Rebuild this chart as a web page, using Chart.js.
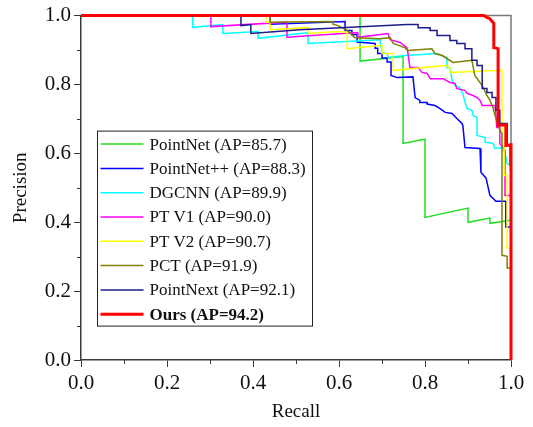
<!DOCTYPE html>
<html>
<head>
<meta charset="utf-8">
<script src="https://cdn.jsdelivr.net/npm/chart.js@4.4.0/dist/chart.umd.min.js"></script>
<style>
  html, body { margin: 0; padding: 0; background: #fff; }
  #wrap { width: 533px; height: 427px; }
</style>
</head>
<body>
<div id="wrap"><canvas id="pr" width="533" height="427"></canvas></div>
<script>
// legend entries, in legend order
const methodNames = ['PointNet', 'PointNet++', 'DGCNN', 'PT V1', 'PT V2', 'PCT', 'PointNext', 'Ours'];
const apValues = ['85.7', '88.3', '89.9', '90.0', '90.7', '91.9', '92.1', '94.2'];
const lineColors = ['#1fe01f', '#0000ff', '#00ffff', '#ff00ff', '#ffff00', '#808000', '#1c1c8c', '#ff0000'];
const axisTicks = [0, 0.2, 0.4, 0.6, 0.8, 1.0];

// [recall, precision]
const pointNetPR = [[0, 1], [0.649, 1], [0.649, 0.868], [0.749, 0.881], [0.749, 0.629], [0.800, 0.641],
  [0.800, 0.414], [0.900, 0.441], [0.900, 0.400], [0.951, 0.412], [0.951, 0.397], [0.998, 0.406]];

const pointNetPPPR = [[0, 1], [0.44, 1], [0.44, 0.975], [0.614, 0.983], [0.614, 0.957], [0.630, 0.957],
  [0.630, 0.945], [0.642, 0.945], [0.642, 0.923], [0.684, 0.919], [0.684, 0.905], [0.690, 0.905],
  [0.690, 0.890], [0.700, 0.890], [0.700, 0.877], [0.712, 0.877], [0.712, 0.865], [0.721, 0.865],
  [0.721, 0.826], [0.735, 0.820], [0.772, 0.822], [0.777, 0.762],
  [0.788, 0.754], [0.788, 0.748], [0.805, 0.748], [0.805, 0.743], [0.823, 0.739], [0.835, 0.730],
  [0.847, 0.719], [0.863, 0.716], [0.874, 0.701], [0.886, 0.687], [0.888, 0.681], [0.893, 0.617],
  [0.928, 0.614], [0.930, 0.545], [0.942, 0.528], [0.951, 0.478], [0.965, 0.461], [0.988, 0.461],
  [0.988, 0.386], [0.998, 0.386]];

const dgcnnPR = [[0, 1], [0.260, 1], [0.260, 0.966], [0.330, 0.974], [0.330, 0.948], [0.412, 0.954],
  [0.412, 0.934], [0.509, 0.948], [0.528, 0.950], [0.528, 0.919], [0.695, 0.930], [0.700, 0.893],
  [0.712, 0.890], [0.714, 0.878], [0.753, 0.884], [0.828, 0.890], [0.851, 0.878], [0.851, 0.849],
  [0.858, 0.849], [0.863, 0.812], [0.870, 0.797], [0.881, 0.790], [0.888, 0.774], [0.893, 0.748],
  [0.898, 0.730], [0.909, 0.725], [0.912, 0.710], [0.921, 0.704], [0.921, 0.652], [0.940, 0.646],
  [0.940, 0.632], [0.958, 0.629], [0.963, 0.614], [0.979, 0.617], [0.986, 0.600], [0.991, 0.571],
  [0.998, 0.565]];

const ptV1PR = [[0, 1], [0.302, 1], [0.302, 0.968], [0.479, 0.981], [0.479, 0.937], [0.642, 0.951],
  [0.644, 0.937], [0.714, 0.948], [0.719, 0.930], [0.742, 0.922], [0.758, 0.907], [0.760, 0.893],
  [0.765, 0.849], [0.784, 0.849], [0.793, 0.835], [0.805, 0.832], [0.812, 0.817], [0.842, 0.817],
  [0.858, 0.806], [0.870, 0.803], [0.874, 0.788], [0.893, 0.783], [0.898, 0.774], [0.912, 0.768],
  [0.921, 0.762], [0.928, 0.754], [0.933, 0.739], [0.963, 0.739], [0.967, 0.675], [0.974, 0.675],
  [0.974, 0.629], [0.986, 0.610], [0.986, 0.478], [0.998, 0.478]];

const ptV2PR = [[0, 1], [0.430, 1], [0.430, 0.981], [0.440, 0.981], [0.440, 0.959], [0.528, 0.965],
  [0.528, 0.948], [0.598, 0.954], [0.619, 0.951], [0.619, 0.904], [0.695, 0.913], [0.700, 0.913],
  [0.700, 0.890], [0.726, 0.890], [0.726, 0.841], [0.851, 0.855], [0.858, 0.846], [0.858, 0.835],
  [0.979, 0.841], [0.979, 0.629], [0.984, 0.620], [0.984, 0.536], [0.991, 0.536], [0.991, 0.325],
  [0.998, 0.325]];

const pctPR = [[0, 1], [0.440, 1], [0.440, 0.981], [0.586, 0.983], [0.586, 0.975], [0.598, 0.971],
  [0.619, 0.957], [0.637, 0.936], [0.695, 0.933], [0.719, 0.936], [0.726, 0.919], [0.753, 0.907],
  [0.760, 0.899], [0.816, 0.904], [0.823, 0.890], [0.840, 0.884], [0.865, 0.864], [0.909, 0.870],
  [0.916, 0.826], [0.933, 0.797], [0.944, 0.768], [0.951, 0.754], [0.958, 0.733], [0.963, 0.710],
  [0.974, 0.667], [0.979, 0.658], [0.979, 0.304], [0.991, 0.301], [0.991, 0.267], [0.998, 0.267]];

const pointNextPR = [[0, 1], [0.372, 1], [0.372, 0.971], [0.395, 0.974], [0.395, 0.948], [0.509, 0.959],
  [0.758, 0.974], [0.784, 0.974], [0.784, 0.965], [0.812, 0.965], [0.812, 0.957], [0.828, 0.957],
  [0.828, 0.942], [0.858, 0.942], [0.858, 0.928], [0.874, 0.928], [0.874, 0.919], [0.893, 0.919],
  [0.893, 0.904], [0.909, 0.904], [0.909, 0.870], [0.921, 0.870], [0.921, 0.855], [0.933, 0.855],
  [0.933, 0.788], [0.944, 0.788], [0.944, 0.777], [0.956, 0.777], [0.956, 0.762], [0.965, 0.762],
  [0.965, 0.725], [0.974, 0.725], [0.974, 0.687], [0.991, 0.687], [0.991, 0.623], [0.998, 0.623],
  [0.998, 0.565]];

const oursPR = [[0, 1], [0.937, 1], [0.944, 0.995], [0.951, 0.991], [0.958, 0.980], [0.960, 0.978],
  [0.960, 0.907], [0.970, 0.904], [0.970, 0.681], [0.988, 0.683], [0.988, 0.623], [1.0, 0.625], [1.0, 0]];

const curves = [pointNetPR, pointNetPPPR, dgcnnPR, ptV1PR, ptV2PR, pctPR, pointNextPR, oursPR];

const SERIF = "'Liberation Serif', 'Times New Roman', serif";
const AXIS_COLOR = '#3a3a3a';

// frame on top/right, minor ticks, and the boxed legend
const frameAndLegend = {
  id: 'frameAndLegend',
  beforeDatasetsDraw(chart) {
    const { ctx, chartArea: a, scales } = chart;
    ctx.save();
    ctx.strokeStyle = '#777';
    ctx.lineWidth = 1.5;
    ctx.beginPath();
    ctx.moveTo(a.left, a.top);
    ctx.lineTo(a.right, a.top);
    ctx.lineTo(a.right, a.bottom);
    ctx.stroke();

    ctx.strokeStyle = AXIS_COLOR;
    ctx.lineWidth = 1;
    for (let v = 0.1; v < 1; v += 0.2) {
      const px = Math.round(scales.x.getPixelForValue(v)) + 0.5;
      ctx.beginPath();
      ctx.moveTo(px, a.bottom);
      ctx.lineTo(px, a.bottom + 4);
      ctx.stroke();
      const py = Math.round(scales.y.getPixelForValue(v)) + 0.5;
      ctx.beginPath();
      ctx.moveTo(a.left, py);
      ctx.lineTo(a.left - 4, py);
      ctx.stroke();
    }
    ctx.restore();
  },
  afterDatasetsDraw(chart) {
    const { ctx, chartArea: a } = chart;
    const left = a.left + 16.5;
    const top = a.top + 115.5;
    ctx.save();
    ctx.fillStyle = '#fff';
    ctx.fillRect(left, top, 215, 195);
    ctx.strokeStyle = '#222';
    ctx.lineWidth = 1;
    ctx.strokeRect(left, top, 215, 195);
    ctx.textBaseline = 'middle';
    methodNames.forEach((name, i) => {
      const y = top + 13 + i * 24.3;
      const bold = i === methodNames.length - 1;
      ctx.strokeStyle = lineColors[i];
      ctx.lineWidth = bold ? 3 : 1.5;
      ctx.beginPath();
      ctx.moveTo(left + 3, y);
      ctx.lineTo(left + 46, y);
      ctx.stroke();
      ctx.fillStyle = '#111';
      ctx.font = (bold ? 'bold ' : '') + '17px ' + SERIF;
      ctx.fillText(`${name} (AP=${apValues[i]})`, left + 52, y + 1);
    });
    ctx.restore();
  }
};

const datasets = curves.map((pts, i) => ({
  label: methodNames[i],
  data: pts.map(([x, y]) => ({ x, y })),
  borderColor: lineColors[i],
  borderWidth: i === curves.length - 1 ? 3 : 1.5,
  pointRadius: 0,
  tension: 0,
  fill: false,
  clip: false,
  order: i === curves.length - 1 ? 0 : curves.length - i
}));

function axisOptions(titleText, isX) {
  return {
    type: 'linear',
    min: 0,
    max: 1,
    afterBuildTicks(scale) {
      scale.ticks = axisTicks.map(v => ({ value: v }));
    },
    afterFit(scale) {
      if (isX) scale.height = 67; else scale.width = 81;
    },
    ticks: {
      callback: v => v.toFixed(1),
      color: '#111',
      font: { family: SERIF, size: 21 },
      padding: isX ? 4 : 3
    },
    grid: {
      drawOnChartArea: false,
      drawTicks: true,
      tickLength: 7,
      tickColor: AXIS_COLOR,
      tickWidth: 1
    },
    border: { color: AXIS_COLOR, width: 1.5 },
    title: {
      display: true,
      text: titleText,
      color: '#111',
      font: { family: SERIF, size: 19 },
      padding: isX ? { top: 4 } : { top: 10, bottom: 8 }
    }
  };
}

new Chart(document.getElementById('pr'), {
  type: 'line',
  data: { datasets },
  options: {
    responsive: false,
    animation: false,
    parsing: true,
    layout: { padding: { top: 15, right: 22, left: 0, bottom: 0 } },
    plugins: {
      legend: { display: false },
      tooltip: { enabled: false }
    },
    scales: {
      x: axisOptions('Recall', true),
      y: axisOptions('Precision', false)
    }
  },
  plugins: [frameAndLegend]
});
</script>
</body>
</html>
